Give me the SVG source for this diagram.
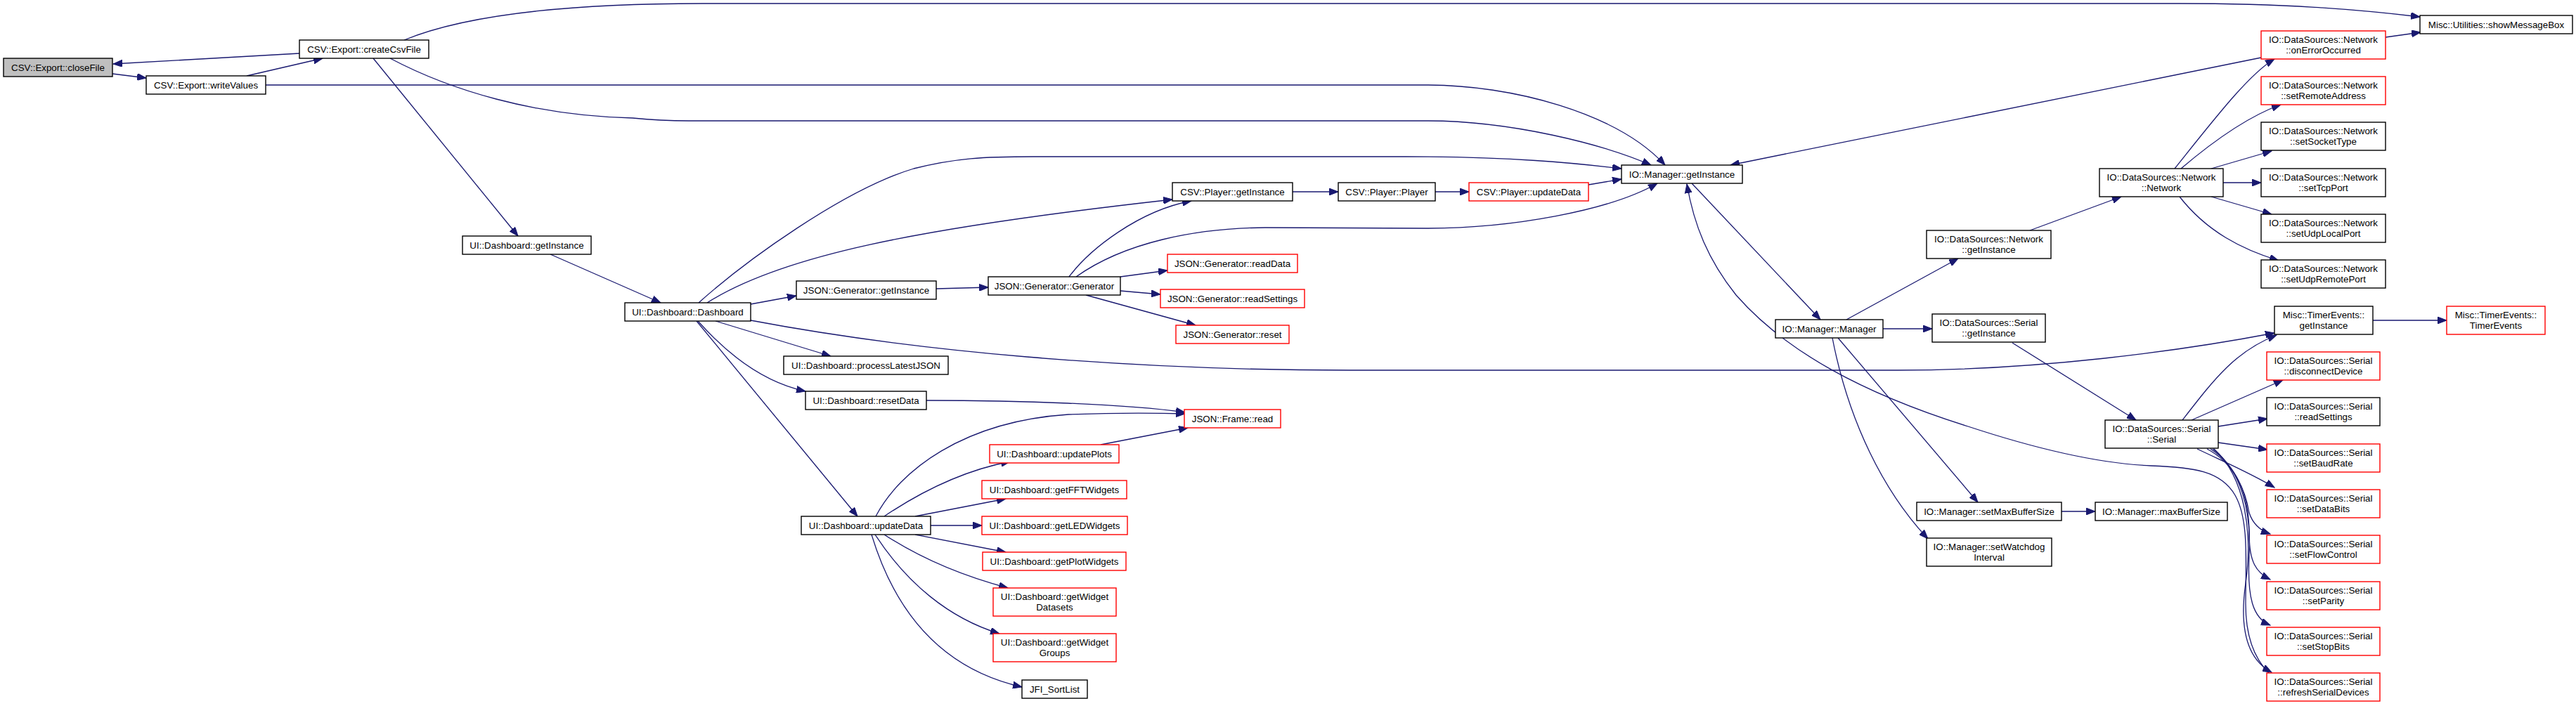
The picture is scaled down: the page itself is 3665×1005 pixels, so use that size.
<svg xmlns="http://www.w3.org/2000/svg" width="3665" height="1005" viewBox="0 0 3665 1005">
<style>
rect{fill:#fff;stroke:#000;stroke-width:1.4}
.red rect{stroke:#ff0000}
.root rect{fill:#bfbfbf}
text{font-family:"Liberation Sans",Arial,Helvetica,sans-serif;font-size:13.33px;text-anchor:middle;fill:#000}
#edges path{fill:none;stroke:#191970;stroke-width:1.3;marker-end:url(#arr)}
</style>
<defs>
<marker id="arr" markerUnits="userSpaceOnUse" markerWidth="14" markerHeight="10" refX="13" refY="5" orient="auto" viewBox="0 0 14 10">
<path d="M0,0 L13,5 L0,10 z" fill="#191970" stroke="#191970" stroke-width="1"/>
</marker>
</defs>
<rect x="0" y="0" width="3665" height="1005" style="fill:#fff;stroke:none"/>
<g id="edges">
<path d="M426,76 L161,91"/>
<path d="M160,105 L208,111"/>
<path d="M351,108 L459,83"/>
<path d="M575,57 C660,22 800,5 1000,5 L3100,5 C3250,5 3350,13 3443,24"/>
<path d="M378,121 L2030,121 C2150,121 2300,160 2369,235"/>
<path d="M555,83 C640,128 760,165 900,168 C930,171 950,172 980,172 L2030,172 C2150,172 2280,205 2349,235"/>
<path d="M531,83 L737,336"/>
<path d="M783,362 L940,431"/>
<path d="M994,431 C1060,372 1200,270 1300,240 C1360,225 1400,223 1470,223 L2000,223 C2150,223 2240,232 2307,240"/>
<path d="M1006,431 C1110,365 1300,325 1668,284"/>
<path d="M1521,394 C1550,355 1620,300 1695,286"/>
<path d="M1531,394 C1600,345 1700,325 1800,324 L2030,325 C2150,325 2290,300 2358,261"/>
<path d="M1068,433 L1133,421"/>
<path d="M1332,411 L1406,409"/>
<path d="M1594,394 L1661,385"/>
<path d="M1594,414 L1651,419"/>
<path d="M1545,420 L1701,463"/>
<path d="M1068,456 C1300,500 1600,527 1920,527 L2700,527 C2900,527 3100,500 3236,474"/>
<path d="M1018,457 L1182,507"/>
<path d="M993,457 C1040,510 1090,545 1146,557"/>
<path d="M991,457 L1220,735"/>
<path d="M1318,570 C1450,570 1600,575 1686,587"/>
<path d="M1246,735 C1280,670 1370,600 1520,590 C1600,587 1650,588 1686,589"/>
<path d="M1566,633 L1690,609"/>
<path d="M1258,735 C1310,700 1370,670 1437,657"/>
<path d="M1302,735 L1431,710"/>
<path d="M1324,748 L1397,748"/>
<path d="M1302,761 L1431,786"/>
<path d="M1258,761 C1310,795 1370,820 1434,837"/>
<path d="M1245,761 C1290,830 1350,880 1422,902"/>
<path d="M1240,761 C1270,860 1330,950 1454,978"/>
<path d="M1839,273 L1904,273"/>
<path d="M2042,273 L2090,273"/>
<path d="M2260,263 L2307,255"/>
<path d="M2407,261 L2590,455"/>
<path d="M3217,82 L2462,235"/>
<path d="M3228,958 C3205,935 3195,900 3195,860 C3195,800 3200,740 3180,705 C3160,670 3120,665 3060,663 C2990,660 2900,640 2800,607 C2650,560 2540,500 2470,420 C2430,370 2410,320 2400,262"/>
<path d="M2627,455 L2786,368"/>
<path d="M2679,468 L2749,468"/>
<path d="M2615,481 L2814,715"/>
<path d="M2607,481 C2630,600 2680,700 2743,767"/>
<path d="M2933,728 L2981,728"/>
<path d="M2888,328 L3018,280"/>
<path d="M3094,240 C3150,170 3200,105 3236,84"/>
<path d="M3103,240 C3150,200 3200,165 3245,149"/>
<path d="M3146,240 L3232,215"/>
<path d="M3163,260 L3217,260"/>
<path d="M3146,280 L3232,305"/>
<path d="M3101,280 C3140,330 3190,355 3242,371"/>
<path d="M3394,53 L3444,46"/>
<path d="M3376,456 L3481,456"/>
<path d="M2863,488 L3039,598"/>
<path d="M3105,598 C3150,540 3180,500 3239,477"/>
<path d="M3118,598 L3248,541"/>
<path d="M3156,607 L3226,596"/>
<path d="M3156,630 L3226,640"/>
<path d="M3126,639 C3170,660 3205,675 3236,694"/>
<path d="M3140,639 C3180,660 3195,700 3200,730 C3205,745 3215,755 3230,760"/>
<path d="M3145,639 C3185,665 3200,710 3200,760 C3200,800 3210,815 3230,825"/>
<path d="M3148,639 C3190,670 3203,730 3200,790 C3197,850 3205,880 3230,890"/>
<path d="M3150,639 C3195,680 3205,760 3195,830 C3185,900 3200,940 3232,957"/>
</g>
<g id="closeFile" class="root"><rect x="5" y="83" width="155" height="26"/><text x="82.5" y="100.5">CSV::Export::closeFile</text></g>
<g id="createCsvFile"><rect x="426" y="57" width="184" height="26"/><text x="518" y="74.5">CSV::Export::createCsvFile</text></g>
<g id="writeValues"><rect x="208" y="108" width="170" height="26"/><text x="293" y="125.5">CSV::Export::writeValues</text></g>
<g id="uiGetInstance"><rect x="658" y="336" width="183" height="26"/><text x="749.5" y="353.5">UI::Dashboard::getInstance</text></g>
<g id="dashboard"><rect x="889" y="431" width="179" height="26"/><text x="978.5" y="448.5">UI::Dashboard::Dashboard</text></g>
<g id="jsonGenGetInstance"><rect x="1133" y="400" width="199" height="26"/><text x="1232.5" y="417.5">JSON::Generator::getInstance</text></g>
<g id="jsonGenerator"><rect x="1406" y="394" width="188" height="26"/><text x="1500" y="411.5">JSON::Generator::Generator</text></g>
<g id="readData" class="red"><rect x="1661" y="362" width="185" height="26"/><text x="1753.5" y="379.5">JSON::Generator::readData</text></g>
<g id="readSettingsJson" class="red"><rect x="1651" y="412" width="205" height="26"/><text x="1753.5" y="429.5">JSON::Generator::readSettings</text></g>
<g id="reset" class="red"><rect x="1673" y="463" width="161" height="26"/><text x="1753.5" y="480.5">JSON::Generator::reset</text></g>
<g id="processLatestJSON"><rect x="1115" y="507" width="234" height="26"/><text x="1232" y="524.5">UI::Dashboard::processLatestJSON</text></g>
<g id="resetData"><rect x="1146" y="557" width="172" height="26"/><text x="1232" y="574.5">UI::Dashboard::resetData</text></g>
<g id="frameRead" class="red"><rect x="1685" y="583" width="137" height="26"/><text x="1753.5" y="600.5">JSON::Frame::read</text></g>
<g id="updatePlots" class="red"><rect x="1408" y="633" width="184" height="26"/><text x="1500" y="650.5">UI::Dashboard::updatePlots</text></g>
<g id="updateData"><rect x="1140" y="735" width="184" height="26"/><text x="1232" y="752.5">UI::Dashboard::updateData</text></g>
<g id="getFFTWidgets" class="red"><rect x="1397" y="684" width="206" height="26"/><text x="1500" y="701.5">UI::Dashboard::getFFTWidgets</text></g>
<g id="getLEDWidgets" class="red"><rect x="1397" y="735" width="207" height="26"/><text x="1500.5" y="752.5">UI::Dashboard::getLEDWidgets</text></g>
<g id="getPlotWidgets" class="red"><rect x="1398" y="786" width="204" height="26"/><text x="1500" y="803.5">UI::Dashboard::getPlotWidgets</text></g>
<g id="getWidgetDatasets" class="red"><rect x="1413" y="837" width="175" height="40"/><text x="1500.5" y="853.5">UI::Dashboard::getWidget</text><text x="1500.5" y="868.5">Datasets</text></g>
<g id="getWidgetGroups" class="red"><rect x="1413" y="902" width="175" height="40"/><text x="1500.5" y="918.5">UI::Dashboard::getWidget</text><text x="1500.5" y="933.5">Groups</text></g>
<g id="jfiSortList"><rect x="1454" y="968" width="93" height="26"/><text x="1500.5" y="985.5">JFI_SortList</text></g>
<g id="playerGetInstance"><rect x="1668" y="260" width="171" height="26"/><text x="1753.5" y="277.5">CSV::Player::getInstance</text></g>
<g id="player"><rect x="1904" y="260" width="138" height="26"/><text x="1973" y="277.5">CSV::Player::Player</text></g>
<g id="playerUpdateData" class="red"><rect x="2090" y="260" width="170" height="26"/><text x="2175" y="277.5">CSV::Player::updateData</text></g>
<g id="ioGetInstance"><rect x="2307" y="235" width="172" height="26"/><text x="2393" y="252.5">IO::Manager::getInstance</text></g>
<g id="ioManager"><rect x="2526" y="455" width="153" height="26"/><text x="2602.5" y="472.5">IO::Manager::Manager</text></g>
<g id="showMessageBox"><rect x="3443" y="22" width="217" height="26"/><text x="3551.5" y="39.5">Misc::Utilities::showMessageBox</text></g>
<g id="onErrorOccurred" class="red"><rect x="3217" y="44" width="177" height="40"/><text x="3305.5" y="60.5">IO::DataSources::Network</text><text x="3305.5" y="75.5">::onErrorOccurred</text></g>
<g id="setRemoteAddress" class="red"><rect x="3217" y="109" width="177" height="40"/><text x="3305.5" y="125.5">IO::DataSources::Network</text><text x="3305.5" y="140.5">::setRemoteAddress</text></g>
<g id="setSocketType"><rect x="3217" y="174" width="177" height="40"/><text x="3305.5" y="190.5">IO::DataSources::Network</text><text x="3305.5" y="205.5">::setSocketType</text></g>
<g id="setTcpPort"><rect x="3217" y="240" width="177" height="40"/><text x="3305.5" y="256.5">IO::DataSources::Network</text><text x="3305.5" y="271.5">::setTcpPort</text></g>
<g id="setUdpLocalPort"><rect x="3217" y="305" width="177" height="40"/><text x="3305.5" y="321.5">IO::DataSources::Network</text><text x="3305.5" y="336.5">::setUdpLocalPort</text></g>
<g id="setUdpRemotePort"><rect x="3217" y="370" width="177" height="40"/><text x="3305.5" y="386.5">IO::DataSources::Network</text><text x="3305.5" y="401.5">::setUdpRemotePort</text></g>
<g id="network"><rect x="2987" y="240" width="176" height="40"/><text x="3075" y="256.5">IO::DataSources::Network</text><text x="3075" y="271.5">::Network</text></g>
<g id="networkGetInstance"><rect x="2741" y="328" width="177" height="40"/><text x="2829.5" y="344.5">IO::DataSources::Network</text><text x="2829.5" y="359.5">::getInstance</text></g>
<g id="serialGetInstance"><rect x="2749" y="447" width="161" height="40"/><text x="2829.5" y="463.5">IO::DataSources::Serial</text><text x="2829.5" y="478.5">::getInstance</text></g>
<g id="serial"><rect x="2995" y="598" width="161" height="40"/><text x="3075.5" y="614.5">IO::DataSources::Serial</text><text x="3075.5" y="629.5">::Serial</text></g>
<g id="timerGetInstance"><rect x="3236" y="436" width="140" height="40"/><text x="3306" y="452.5">Misc::TimerEvents::</text><text x="3306" y="467.5">getInstance</text></g>
<g id="timerEvents" class="red"><rect x="3481" y="436" width="140" height="40"/><text x="3551" y="452.5">Misc::TimerEvents::</text><text x="3551" y="467.5">TimerEvents</text></g>
<g id="disconnectDevice" class="red"><rect x="3225" y="501" width="161" height="40"/><text x="3305.5" y="517.5">IO::DataSources::Serial</text><text x="3305.5" y="532.5">::disconnectDevice</text></g>
<g id="readSettingsSerial"><rect x="3225" y="566" width="161" height="40"/><text x="3305.5" y="582.5">IO::DataSources::Serial</text><text x="3305.5" y="597.5">::readSettings</text></g>
<g id="setBaudRate" class="red"><rect x="3225" y="632" width="161" height="40"/><text x="3305.5" y="648.5">IO::DataSources::Serial</text><text x="3305.5" y="663.5">::setBaudRate</text></g>
<g id="setDataBits" class="red"><rect x="3225" y="697" width="161" height="40"/><text x="3305.5" y="713.5">IO::DataSources::Serial</text><text x="3305.5" y="728.5">::setDataBits</text></g>
<g id="setFlowControl" class="red"><rect x="3225" y="762" width="161" height="40"/><text x="3305.5" y="778.5">IO::DataSources::Serial</text><text x="3305.5" y="793.5">::setFlowControl</text></g>
<g id="setParity" class="red"><rect x="3225" y="828" width="161" height="40"/><text x="3305.5" y="844.5">IO::DataSources::Serial</text><text x="3305.5" y="859.5">::setParity</text></g>
<g id="setStopBits" class="red"><rect x="3225" y="893" width="161" height="40"/><text x="3305.5" y="909.5">IO::DataSources::Serial</text><text x="3305.5" y="924.5">::setStopBits</text></g>
<g id="refreshSerialDevices" class="red"><rect x="3225" y="958" width="161" height="40"/><text x="3305.5" y="974.5">IO::DataSources::Serial</text><text x="3305.5" y="989.5">::refreshSerialDevices</text></g>
<g id="setMaxBufferSize"><rect x="2727" y="715" width="206" height="26"/><text x="2830" y="732.5">IO::Manager::setMaxBufferSize</text></g>
<g id="maxBufferSize"><rect x="2981" y="715" width="188" height="26"/><text x="3075" y="732.5">IO::Manager::maxBufferSize</text></g>
<g id="setWatchdogInterval"><rect x="2741" y="766" width="178" height="40"/><text x="2830" y="782.5">IO::Manager::setWatchdog</text><text x="2830" y="797.5">Interval</text></g>
</svg>
